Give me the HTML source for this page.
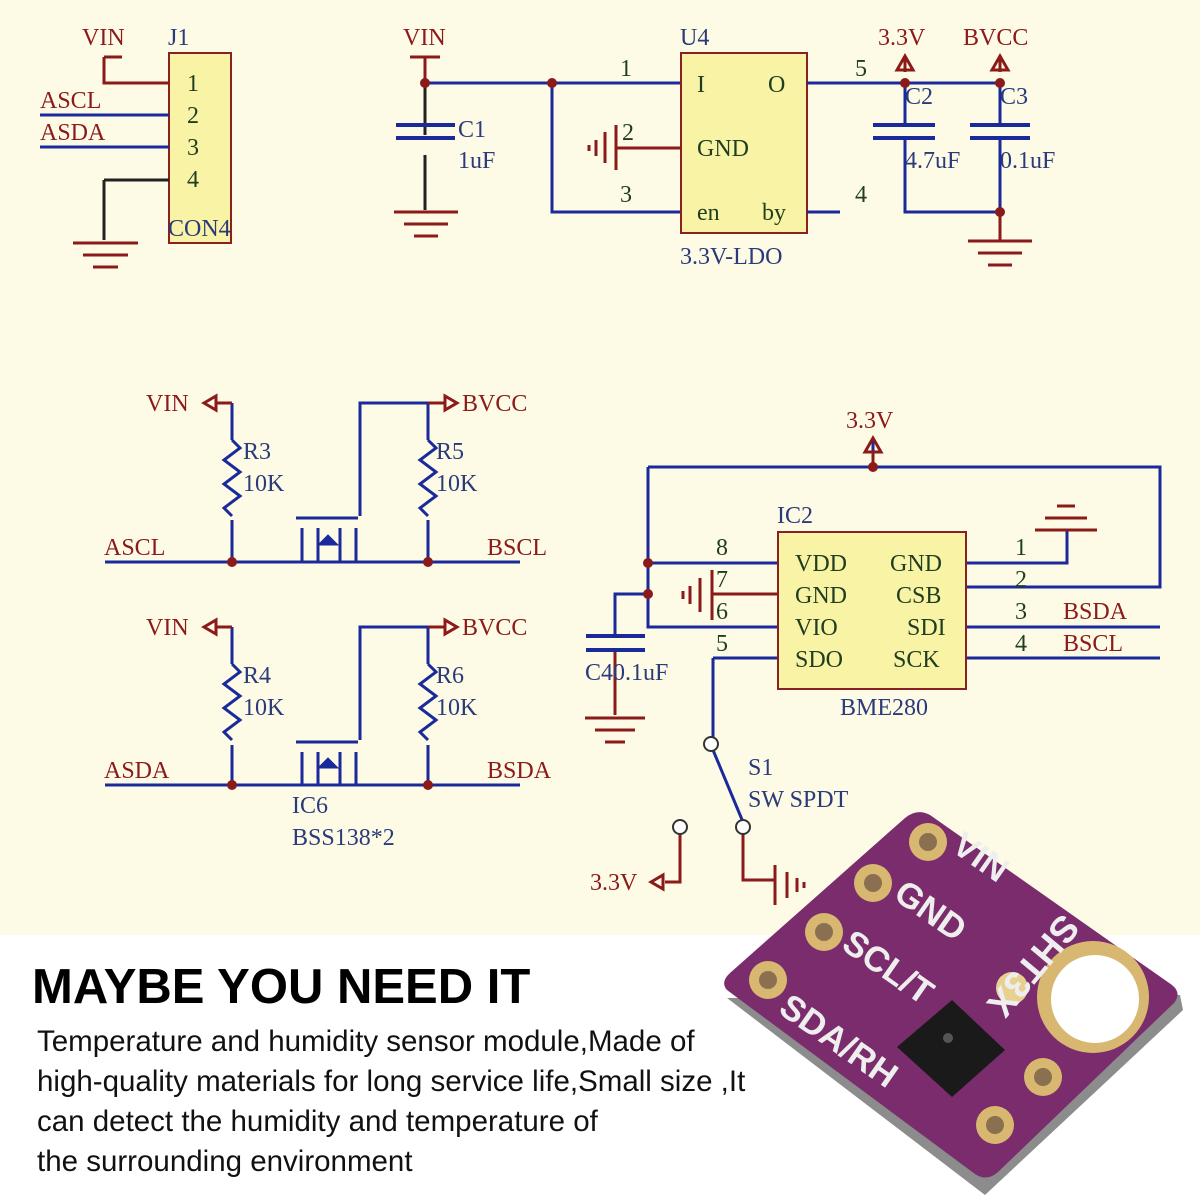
<!DOCTYPE html>
<html><head><meta charset="utf-8"><style>
body{margin:0;width:1200px;height:1200px;overflow:hidden;background:#fff}
svg{display:block}
text{font-family:"Liberation Serif",serif}
text.s,.s text{font-family:"Liberation Sans",sans-serif}
</style></head><body>
<svg width="1200" height="1200" viewBox="0 0 1200 1200">
<rect x="0" y="0" width="1200" height="935" fill="#fdfbe6"/>
<g fill="none" stroke-width="3">
<rect x="169" y="53" width="62" height="190" fill="#f9f3a6" stroke="#8b2020" stroke-width="2"/>
<path d="M104 57H122M104 57V83H169" stroke="#8b1a1a"/>
<path d="M40 115H169M40 147H169" stroke="#1a2a9a"/>
<path d="M104 180H169M104 180V240" stroke="#222"/>
<path d="M73 243H138M83 255H128M93 267H118" stroke="#8b1a1a"/>
<path d="M410 57H440M425 57V83" stroke="#8b1a1a"/>
<path d="M425 83H680M552 83V212H680" stroke="#1a2a9a"/>
<path d="M425 83V135M425 155V210" stroke="#222"/>
<path d="M396 125H455M396 138H455" stroke="#1a2a9a" stroke-width="4"/>
<path d="M394 212H458M404 224H448M414 236H438" stroke="#8b1a1a"/>
<rect x="681" y="53" width="126" height="180" fill="#f9f3a6" stroke="#8b2020" stroke-width="2"/>
<path d="M616 148H681M616 125V170M605 132V163M596 140V156M589 145V151" stroke="#8b1a1a"/>
<path d="M807 83H1000M807 212H840" stroke="#1a2a9a"/>
<path d="M905 83V125M905 140V212H1000M1000 83V125M1000 140V212" stroke="#1a2a9a"/>
<path d="M873 125H935M873 138H935M970 125H1030M970 138H1030" stroke="#1a2a9a" stroke-width="4"/>
<path d="M1000 212V240M968 241H1032M978 253H1022M988 265H1012" stroke="#8b1a1a"/>
<path d="M905 72V57M897 70L905 56L913 70ZM1000 72V57M992 70L1000 56L1008 70Z" stroke="#8b1a1a"/>
<g stroke="#1a2a9a">
<path d="M105 562H520M105 785H520"/>
<path d="M232 403V440M232 520V562M428 403V440M428 520V562M232 627V664M232 745V785M428 627V664M428 745V785"/>
<path d="M232 440l8 8-16 12 16 12-16 12 16 12-16 12 8 8M428 440l8 8-16 12 16 12-16 12 16 12-16 12 8 8M232 664l8 8-16 12 16 12-16 12 16 12-16 12 8 8M428 664l8 8-16 12 16 12-16 12 16 12-16 12 8 8"/>
<path d="M360 516V403H428M360 740V627H428"/>
<path d="M296 518H358M296 742H358M302 528V562M302 752V785M356 528V562M356 752V785M318 528V562M340 528V562M318 752V785M340 752V785"/>
</g>
<g stroke="#8b1a1a">
<path d="M232 403H217M232 627H217M428 403H445M428 627H445"/>
<path d="M204 403l12-7v14z M204 627l12-7v14z M457 403l-12-7v14z M457 627l-12-7v14z"/>
</g>
<path d="M318 545l10-10 10 10z M318 768l10-10 10 10z" fill="#1a2a9a" stroke="#1a2a9a" stroke-width="1"/>
<path d="M648 467H1160V587H967M873 467V440M648 467V627H778M648 563H778M648 594H615V636M615 652V715M713 658H778M713 658V740" stroke="#1a2a9a"/>
<path d="M967 563H1067V530M967 627H1160M967 658H1160" stroke="#1a2a9a"/>
<path d="M1035 530H1097M1045 518H1087M1057 506H1075" stroke="#8b1a1a"/>
<path d="M865 452l8-14 8 14z M873 452V467" stroke="#8b1a1a"/>
<path d="M712 570V620M712 594H778M700 578V612M690 586V604M683 591V599" stroke="#8b1a1a"/>
<path d="M586 636H645M586 650H645" stroke="#1a2a9a" stroke-width="4"/>
<path d="M615 652V715M585 718H645M595 730H635M605 742H625" stroke="#8b1a1a"/>
<rect x="778" y="532" width="188" height="157" fill="#f9f3a6" stroke="#8b2020" stroke-width="2"/>
<path d="M713 750L743 822" stroke="#1a2a9a"/>
<path d="M743 834V880H775M680 834V882H665M775 865V905M787 872V898M797 878V892M804 882V888" stroke="#8b1a1a"/>
<path d="M651 882l12-7v14z" stroke="#8b1a1a"/>
<circle cx="711" cy="744" r="7" stroke="#333" stroke-width="2" fill="#fff"/>
<circle cx="743" cy="827" r="7" stroke="#333" stroke-width="2" fill="#fff"/>
<circle cx="680" cy="827" r="7" stroke="#333" stroke-width="2" fill="#fff"/>
</g>
<g fill="#8b1a1a">
<circle cx="425" cy="83" r="5"/><circle cx="552" cy="83" r="5"/><circle cx="905" cy="83" r="5"/><circle cx="1000" cy="83" r="5"/><circle cx="1000" cy="212" r="5"/>
<circle cx="232" cy="562" r="5"/><circle cx="428" cy="562" r="5"/><circle cx="232" cy="785" r="5"/><circle cx="428" cy="785" r="5"/>
<circle cx="873" cy="467" r="5"/><circle cx="648" cy="563" r="5"/><circle cx="648" cy="594" r="5"/>
</g>
<g font-size="24" fill="#8b1a1a">
<text x="82" y="45">VIN</text><text x="403" y="45">VIN</text><text x="878" y="45">3.3V</text><text x="963" y="45">BVCC</text>
<text x="146" y="411">VIN</text><text x="146" y="635">VIN</text><text x="462" y="411">BVCC</text><text x="462" y="635">BVCC</text>
<text x="846" y="428">3.3V</text><text x="1063" y="619">BSDA</text><text x="1063" y="651">BSCL</text>
<text x="590" y="890">3.3V</text>
<text x="104" y="555">ASCL</text><text x="487" y="555">BSCL</text><text x="104" y="778">ASDA</text><text x="487" y="778">BSDA</text>
<text x="40" y="108">ASCL</text><text x="40" y="140">ASDA</text>
</g>
<g font-size="24" fill="#2a3a7a">
<text x="168" y="45">J1</text><text x="168" y="236">CON4</text><text x="680" y="45">U4</text><text x="680" y="264">3.3V-LDO</text>
<text x="458" y="137">C1</text><text x="458" y="168">1uF</text><text x="905" y="104">C2</text><text x="905" y="168">4.7uF</text><text x="1000" y="104">C3</text><text x="1000" y="168">0.1uF</text>
<text x="243" y="459">R3</text><text x="243" y="491">10K</text><text x="436" y="459">R5</text><text x="436" y="491">10K</text>
<text x="243" y="683">R4</text><text x="243" y="715">10K</text><text x="436" y="683">R6</text><text x="436" y="715">10K</text>
<text x="292" y="813">IC6</text><text x="292" y="845">BSS138*2</text>
<text x="777" y="523">IC2</text><text x="840" y="715">BME280</text><text x="585" y="680">C40.1uF</text>
<text x="748" y="775">S1</text><text x="748" y="807">SW SPDT</text>
</g>
<g font-size="24" fill="#1f3d1f">
<text x="187" y="91">1</text><text x="187" y="123">2</text><text x="187" y="155">3</text><text x="187" y="187">4</text>
<text x="620" y="76">1</text><text x="620" y="202">3</text><text x="855" y="76">5</text><text x="855" y="202">4</text><text x="622" y="140">2</text>
<text x="697" y="92">I</text><text x="768" y="92">O</text><text x="697" y="156">GND</text><text x="697" y="220">en</text><text x="762" y="220">by</text>
<text x="716" y="555">8</text><text x="716" y="587">7</text><text x="716" y="619">6</text><text x="716" y="651">5</text>
<text x="1015" y="555">1</text><text x="1015" y="587">2</text><text x="1015" y="619">3</text><text x="1015" y="651">4</text>
<text x="795" y="571">VDD</text><text x="795" y="603">GND</text><text x="795" y="635">VIO</text><text x="795" y="667">SDO</text>
<text x="890" y="571">GND</text><text x="896" y="603">CSB</text><text x="907" y="635">SDI</text><text x="893" y="667">SCK</text>
</g>
<text class="s" x="32" y="1003" font-size="49" font-weight="bold" fill="#000">MAYBE YOU NEED IT</text>
<g class="s" font-size="29.5" fill="#111">
<text x="37" y="1051">Temperature and humidity sensor module,Made of</text>
<text x="37" y="1091">high-quality materials for long service life,Small size ,It</text>
<text x="37" y="1131">can detect the humidity and temperature of</text>
<text x="37" y="1171">the surrounding environment</text>
</g>
<path d="M727 998L985 1195L1183 1010L1180 995Z" fill="#8c8c8c"/>
<path d="M727 990Q720 982 730 973L905 818Q917 808 930 815L1172 985Q1182 993 1174 1003L998 1172Q987 1182 975 1174Z" fill="#7a2c6c"/>
<g fill="#d8b870"><circle cx="928" cy="842" r="19"/><circle cx="873" cy="883" r="19"/><circle cx="824" cy="932" r="19"/><circle cx="768" cy="980" r="19"/><circle cx="1043" cy="1077" r="19"/><circle cx="995" cy="1125" r="19"/><circle cx="1093" cy="997" r="56"/><circle cx="1012" cy="988" r="16" fill="#e8d090"/></g>
<g fill="#8a7050"><circle cx="928" cy="842" r="9"/><circle cx="873" cy="883" r="9"/><circle cx="824" cy="932" r="9"/><circle cx="768" cy="980" r="9"/><circle cx="1043" cy="1077" r="9"/><circle cx="995" cy="1125" r="9"/></g>
<circle cx="1095" cy="999" r="44" fill="#fff"/>
<path d="M897 1047L952 1000L1005 1050L952 1097Z" fill="#1a1a1a"/>
<circle cx="948" cy="1038" r="5" fill="#555"/>
<g class="s" fill="#eee" font-weight="bold" font-size="35">
<text transform="translate(950,850) rotate(35)">VIN</text>
<text transform="translate(892,898) rotate(35)">GND</text>
<text transform="translate(840,948) rotate(35)">SCL/T</text>
<text transform="translate(777,1012) rotate(35)">SDA/RH</text>
<text transform="translate(1062,912) rotate(130)" font-size="37">SHT3X</text>
</g>
</svg>
</body></html>
